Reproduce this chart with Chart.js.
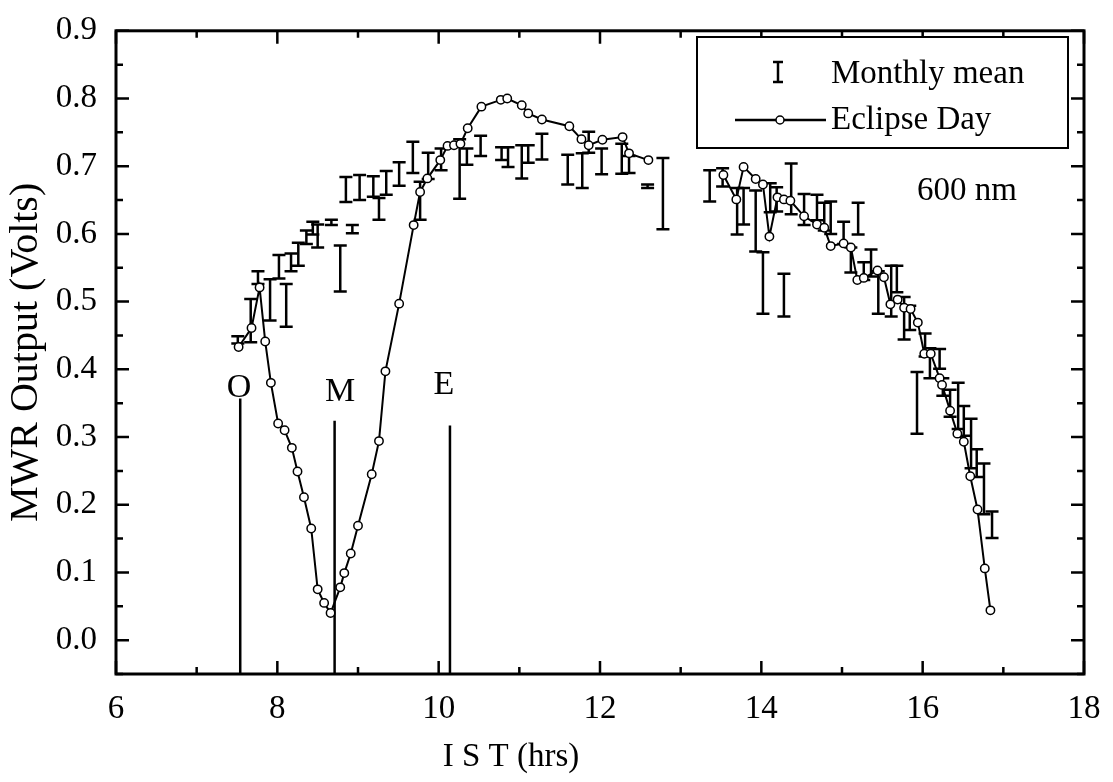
<!DOCTYPE html>
<html>
<head>
<meta charset="utf-8">
<script src="https://cdn.jsdelivr.net/npm/chart.js@4.4.1/dist/chart.umd.min.js"></script>
<style>
  html, body { margin: 0; padding: 0; background: #fff; }
  #wrap { position: relative; width: 1113px; height: 782px; }
</style>
</head>
<body>
<div id="wrap"><canvas id="c" width="1113" height="782" aria-label="MWR output, 600 nm"></canvas></div>
<script>
// monthly mean: time (hrs) and the ends of each error bar
const meanTime = [7.51, 7.67, 7.76, 7.91, 8.02, 8.11, 8.17, 8.26, 8.36, 8.44, 8.50, 8.67, 8.78, 8.85, 8.93,
  9.02, 9.19, 9.26, 9.35, 9.51, 9.68, 9.77, 9.87, 10.03, 10.26, 10.35, 10.52, 10.78, 10.86, 11.03, 11.11,
  11.28, 11.60, 11.78, 11.86, 12.02, 12.27, 12.36, 12.59, 12.78, 13.36, 13.52, 13.70, 13.78, 13.93, 14.02,
  14.11, 14.19, 14.28, 14.37, 14.53, 14.69, 14.78, 14.86, 15.02, 15.11, 15.20, 15.27, 15.36, 15.45, 15.61,
  15.68, 15.77, 15.84, 15.93, 16.03, 16.09, 16.21, 16.25, 16.34, 16.44, 16.51, 16.60, 16.67, 16.76, 16.86];
const meanLow = [0.438, 0.440, 0.526, 0.472, 0.534, 0.463, 0.545, 0.553, 0.585, 0.599, 0.580, 0.613, 0.515, 0.647, 0.601,
  0.650, 0.655, 0.621, 0.658, 0.671, 0.690, 0.621, 0.681, 0.694, 0.652, 0.702, 0.715, 0.709, 0.699, 0.682, 0.705,
  0.710, 0.673, 0.668, 0.720, 0.688, 0.689, 0.690, 0.668, 0.607, 0.648, 0.670, 0.599, 0.614, 0.574, 0.482,
  0.632, 0.633, 0.478, 0.629, 0.613, 0.620, 0.605, 0.600, 0.585, 0.543, 0.599, 0.532, 0.537, 0.482, 0.478,
  0.514, 0.444, 0.458, 0.305, 0.419, 0.387, 0.401, 0.361, 0.330, 0.312, 0.302, 0.254, 0.241, 0.186, 0.151];
const meanHigh = [0.449, 0.504, 0.545, 0.533, 0.569, 0.526, 0.571, 0.587, 0.605, 0.618, 0.614, 0.621, 0.583, 0.684, 0.613,
  0.687, 0.685, 0.653, 0.693, 0.706, 0.736, 0.677, 0.720, 0.726, 0.740, 0.726, 0.745, 0.728, 0.728, 0.731, 0.731,
  0.748, 0.717, 0.719, 0.751, 0.726, 0.733, 0.715, 0.673, 0.712, 0.694, 0.697, 0.668, 0.668, 0.664, 0.573,
  0.675, 0.669, 0.541, 0.704, 0.659, 0.658, 0.646, 0.648, 0.618, 0.580, 0.646, 0.558, 0.577, 0.545, 0.553,
  0.553, 0.507, 0.494, 0.396, 0.453, 0.431, 0.430, 0.387, 0.370, 0.380, 0.346, 0.327, 0.282, 0.261, 0.190];

// eclipse day (null = no data, line broken)
const eclTime = [7.52, 7.68, 7.78, 7.85, 7.92, 8.01, 8.09, 8.18, 8.25, 8.33, 8.42, 8.50, 8.58, 8.66, 8.78,
  8.83, 8.91, 9.00, 9.17, 9.26, 9.34, 9.51, 9.69, 9.77, 9.86, 10.02, 10.11, 10.19, 10.27, 10.36, 10.53,
  10.77, 10.85, 11.03, 11.11, 11.28, 11.62, 11.77, 11.86, 12.03, 12.28, 12.36, 12.60, 13.0,
  13.53, 13.69, 13.78, 13.93, 14.02, 14.10, 14.20, 14.28, 14.36, 14.53, 14.69, 14.78, 14.86, 15.02, 15.11,
  15.19, 15.27, 15.44, 15.52, 15.60, 15.69, 15.77, 15.85, 15.94, 16.02, 16.10, 16.21, 16.24, 16.34, 16.43,
  16.51, 16.59, 16.68, 16.77, 16.84];
const eclValue = [0.433, 0.461, 0.521, 0.441, 0.380, 0.320, 0.310, 0.284, 0.249, 0.211, 0.165, 0.075, 0.055, 0.040, 0.078,
  0.099, 0.128, 0.169, 0.245, 0.294, 0.397, 0.497, 0.613, 0.662, 0.682, 0.709, 0.730, 0.731, 0.733, 0.756, 0.788,
  0.798, 0.800, 0.790, 0.778, 0.769, 0.759, 0.740, 0.731, 0.739, 0.743, 0.719, 0.709, null,
  0.687, 0.651, 0.699, 0.681, 0.673, 0.596, 0.654, 0.651, 0.649, 0.626, 0.614, 0.609, 0.582, 0.586, 0.580,
  0.532, 0.535, 0.546, 0.536, 0.496, 0.503, 0.491, 0.489, 0.469, 0.423, 0.423, 0.387, 0.377, 0.339, 0.305,
  0.293, 0.242, 0.193, 0.106, 0.044];

// eclipse phases: first contact, maximum, end
const phaseNames = ['O', 'M', 'E'];
const phaseTime = [7.54, 8.71, 10.14];
const phaseTop = [0.357, 0.324, 0.317];
const phaseLabelX = [7.525, 8.777, 10.066];
const phaseLabelY = [0.373, 0.366, 0.376];

const xTicks = [6, 8, 10, 12, 14, 16, 18];
const xMinor = [7, 9, 11, 13, 15, 17];
const yTicks = [0, 0.1, 0.2, 0.3, 0.4, 0.5, 0.6, 0.7, 0.8, 0.9];
const yMinor = [-0.05, 0.05, 0.15, 0.25, 0.35, 0.45, 0.55, 0.65, 0.75, 0.85];

const FONT = '"Liberation Serif", "DejaVu Serif", serif';
const INK = '#000';

// error bar stems: pairs of points split by a null so each bar is its own segment
const stemPoints = [];
meanTime.forEach((t, i) => {
  stemPoints.push({ x: t, y: meanLow[i] }, { x: t, y: meanHigh[i] }, { x: t, y: null });
});
const capPoints = meanTime.flatMap((t, i) => [{ x: t, y: meanLow[i] }, { x: t, y: meanHigh[i] }]);
const eclPoints = eclTime.map((t, i) => ({ x: t, y: eclValue[i] }));

const phaseSets = phaseTime.map((t, i) => ({
  type: 'line',
  data: [{ x: t, y: -0.05 }, { x: t, y: phaseTop[i] }],
  borderColor: INK,
  borderWidth: 2.5,
  pointRadius: 0,
  order: 4,
}));

// frame, inward ticks, phase letters, legend box, wavelength note, x title
const decor = {
  id: 'decor',
  afterDatasetsDraw(chart) {
    const { ctx, chartArea: a, scales: { x, y } } = chart;
    ctx.save();
    ctx.strokeStyle = INK;
    ctx.fillStyle = INK;

    ctx.lineWidth = 2.5;
    const tick = (px, len, vertical) => {
      ctx.beginPath();
      if (vertical) {
        ctx.moveTo(px, a.bottom); ctx.lineTo(px, a.bottom - len);
        ctx.moveTo(px, a.top); ctx.lineTo(px, a.top + len);
      } else {
        ctx.moveTo(a.left, px); ctx.lineTo(a.left + len, px);
        ctx.moveTo(a.right, px); ctx.lineTo(a.right - len, px);
      }
      ctx.stroke();
    };
    xTicks.forEach(v => tick(x.getPixelForValue(v), 13, true));
    xMinor.forEach(v => tick(x.getPixelForValue(v), 7, true));
    yTicks.forEach(v => tick(y.getPixelForValue(v), 13, false));
    yMinor.forEach(v => tick(y.getPixelForValue(v), 7, false));

    ctx.lineWidth = 3;
    ctx.strokeRect(a.left, a.top, a.right - a.left, a.bottom - a.top);

    ctx.font = '34px ' + FONT;
    ctx.textAlign = 'center';
    ctx.textBaseline = 'middle';
    phaseNames.forEach((n, i) => {
      ctx.fillText(n, x.getPixelForValue(phaseLabelX[i]), y.getPixelForValue(phaseLabelY[i]));
    });

    // legend
    ctx.fillStyle = '#fff';
    ctx.fillRect(697, 37, 371, 111);
    ctx.fillStyle = INK;
    ctx.lineWidth = 2;
    ctx.strokeRect(697, 37, 371, 111);
    ctx.lineWidth = 2.5;
    ctx.beginPath();
    ctx.moveTo(778, 62); ctx.lineTo(778, 82);
    ctx.moveTo(773, 62); ctx.lineTo(783, 62);
    ctx.moveTo(773, 82); ctx.lineTo(783, 82);
    ctx.moveTo(735, 120); ctx.lineTo(826, 120);
    ctx.stroke();
    ctx.beginPath();
    ctx.arc(780, 120, 4, 0, Math.PI * 2);
    ctx.fillStyle = '#fff';
    ctx.fill();
    ctx.lineWidth = 1.5;
    ctx.stroke();
    ctx.fillStyle = INK;
    ctx.font = '33px ' + FONT;
    ctx.textAlign = 'left';
    ctx.fillText('Monthly mean', 831, 74);
    ctx.fillText('Eclipse Day', 831, 120);
    ctx.fillText('600 nm', 917, 191);

    ctx.textAlign = 'center';
    ctx.fillText('I S T (hrs)', 511, 757);
    ctx.restore();
  },
};

new Chart(document.getElementById('c'), {
  type: 'line',
  data: {
    datasets: [
      {
        label: 'Eclipse Day',
        data: eclPoints,
        borderColor: INK,
        borderWidth: 2,
        pointRadius: 4.2,
        pointBackgroundColor: '#fff',
        pointBorderColor: INK,
        pointBorderWidth: 1.5,
        spanGaps: false,
        order: 0,
      },
      {
        label: 'Monthly mean caps',
        data: capPoints,
        showLine: false,
        pointStyle: 'line',
        pointRadius: 6.5,
        pointBorderWidth: 2.5,
        pointBorderColor: INK,
        order: 2,
      },
      {
        label: 'Monthly mean',
        data: stemPoints,
        borderColor: INK,
        borderWidth: 2.5,
        pointRadius: 0,
        spanGaps: false,
        order: 3,
      },
      ...phaseSets,
    ],
  },
  options: {
    responsive: false,
    animation: false,
    devicePixelRatio: 1,
    layout: { padding: { left: 0, top: 23, right: 29, bottom: 0 } },
    plugins: { legend: { display: false }, tooltip: { enabled: false } },
    scales: {
      x: {
        type: 'linear',
        min: 6,
        max: 18,
        grid: { display: false },
        border: { display: false },
        afterBuildTicks: (s) => { s.ticks = xTicks.map(v => ({ value: v })); },
        afterFit: (s) => { s.height = 108; },
        ticks: { color: INK, font: { family: FONT, size: 33 }, padding: 8, maxRotation: 0 },
        title: { display: false },
      },
      y: {
        type: 'linear',
        min: -0.05,
        max: 0.9,
        grid: { display: false },
        border: { display: false },
        afterBuildTicks: (s) => { s.ticks = yTicks.map(v => ({ value: v })); },
        afterFit: (s) => { s.width = 116; },
        ticks: { color: INK, font: { family: FONT, size: 33 }, padding: 11, callback: (v) => v.toFixed(1) },
        title: { display: true, text: 'MWR Output (Volts)', color: INK, font: { family: FONT, size: 40 }, padding: { top: 2, bottom: 0 } },
      },
    },
  },
  plugins: [decor],
});
</script>
</body>
</html>
